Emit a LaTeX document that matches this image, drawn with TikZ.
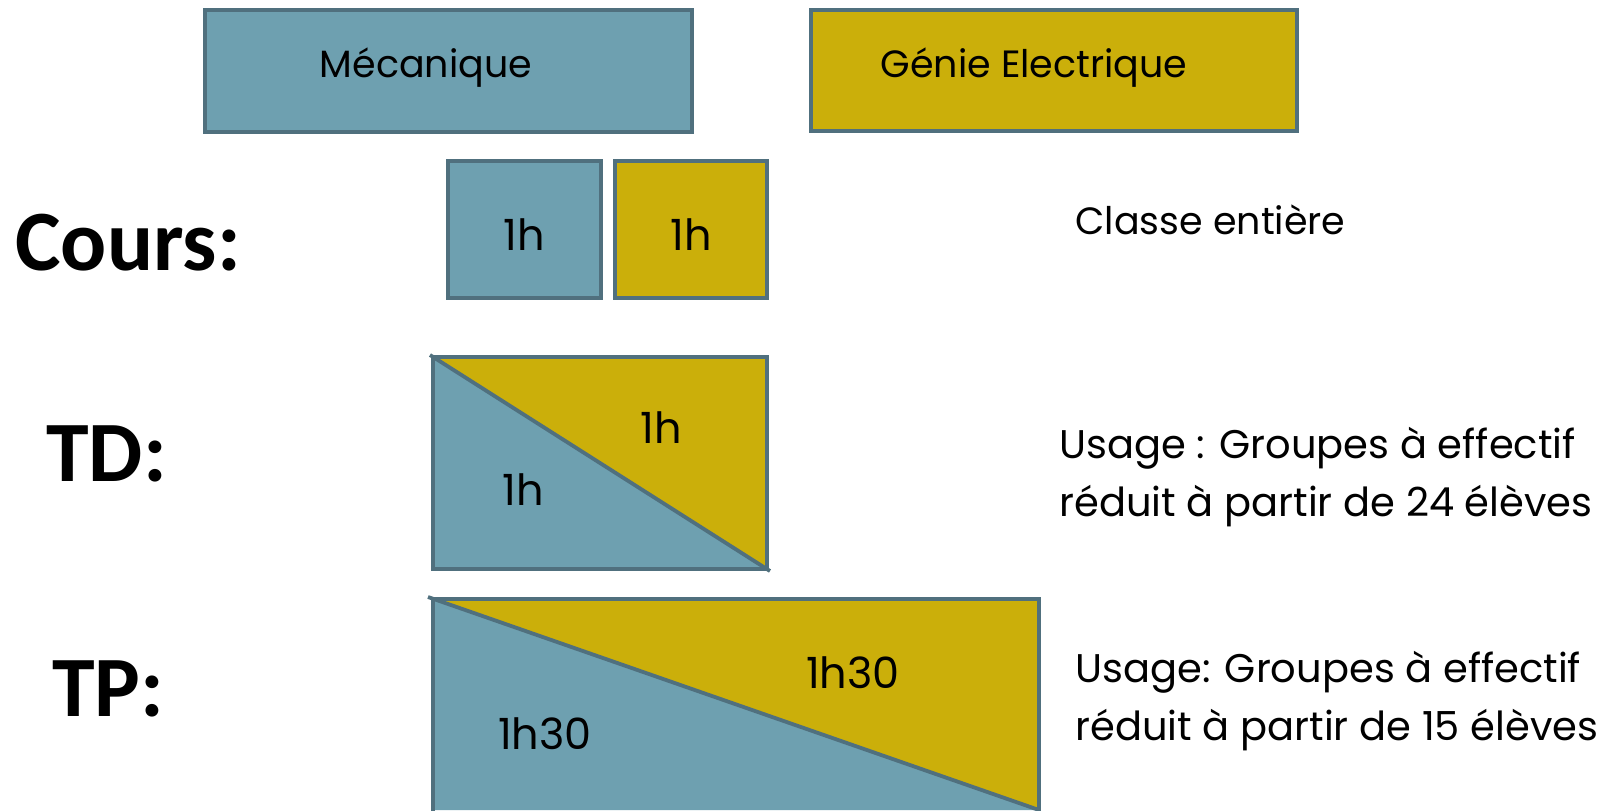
\documentclass[tikz,border=0pt]{standalone}
\usepackage{fontspec}
\setmainfont{Poppins}
\newfontfamily\labfont{Carlito}
\definecolor{teal}{RGB}{110,160,176}
\definecolor{gold}{RGB}{203,175,10}
\definecolor{edge}{RGB}{80,112,126}
\begin{document}
\begin{tikzpicture}[x=0.5pt,y=-0.5pt,
  cell/.style={draw=edge,line width=1.9pt},
  txt/.style={font=\fontsize{19}{29}\selectfont,inner sep=0pt,text=black},
  num/.style={font=\fontsize{21.5}{26}\selectfont,inner sep=0pt,text=black},
  usage/.style={font=\fontsize{20}{29}\selectfont,inner sep=0pt,text=black,anchor=west,align=left},
  lab/.style={font=\labfont\bfseries\fontsize{43}{50}\selectfont,inner sep=0pt,anchor=west}]
\useasboundingbox (0,0) rectangle (1619,810);
% header boxes
\draw[cell,fill=teal] (205,10) rectangle (692,132);
\node[txt] (meca) at (426,68) {Mécanique};
\draw[cell,fill=gold] (811,10) rectangle (1297,131);
\node[txt] (ge) at (1034,68) {Génie Electrique};
% row labels
\node[lab] (cours) at (15,243) {Cours:};
\node[lab] (td) at (46,454) {TD:};
\node[lab] (tp) at (52,689) {TP:};
% Cours
\draw[cell,fill=teal] (448,161) rectangle (601,298);
\node[num] (c1) at (524.5,235) {1h};
\draw[cell,fill=gold] (615,161) rectangle (767,298);
\node[num] (c2) at (691,235) {1h};
\node[txt,anchor=west] (cl) at (1075,220) {Classe entière};
% TD
\fill[teal] (433,357) -- (767,569) -- (433,569) -- cycle;
\fill[gold] (433,357) -- (767,357) -- (767,569) -- cycle;
\draw[cell] (433,357) rectangle (767,569);
\draw[cell] (430,355) -- (770,571);
\node[num] (td1) at (661,428) {1h};
\node[num] (td2) at (523,490) {1h};
\node[usage] (tdu) at (1059,477) {Usage : Groupes à effectif\\réduit à partir de 24 élèves};
% TP
\fill[teal] (433,599) -- (1039,810) -- (433,810) -- cycle;
\fill[gold] (433,599) -- (1039,599) -- (1039,810) -- cycle;
\draw[cell] (433,812) -- (433,599) -- (1039,599) -- (1039,812);
\draw[cell] (428,597) -- (1039,810);
\node[num] (tp1) at (853,673) {1h30};
\node[num] (tp2) at (545,734) {1h30};
\node[usage] (tpu) at (1075,701) {Usage: Groupes à effectif\\réduit à partir de 15 élèves};
\end{tikzpicture}
\end{document}
